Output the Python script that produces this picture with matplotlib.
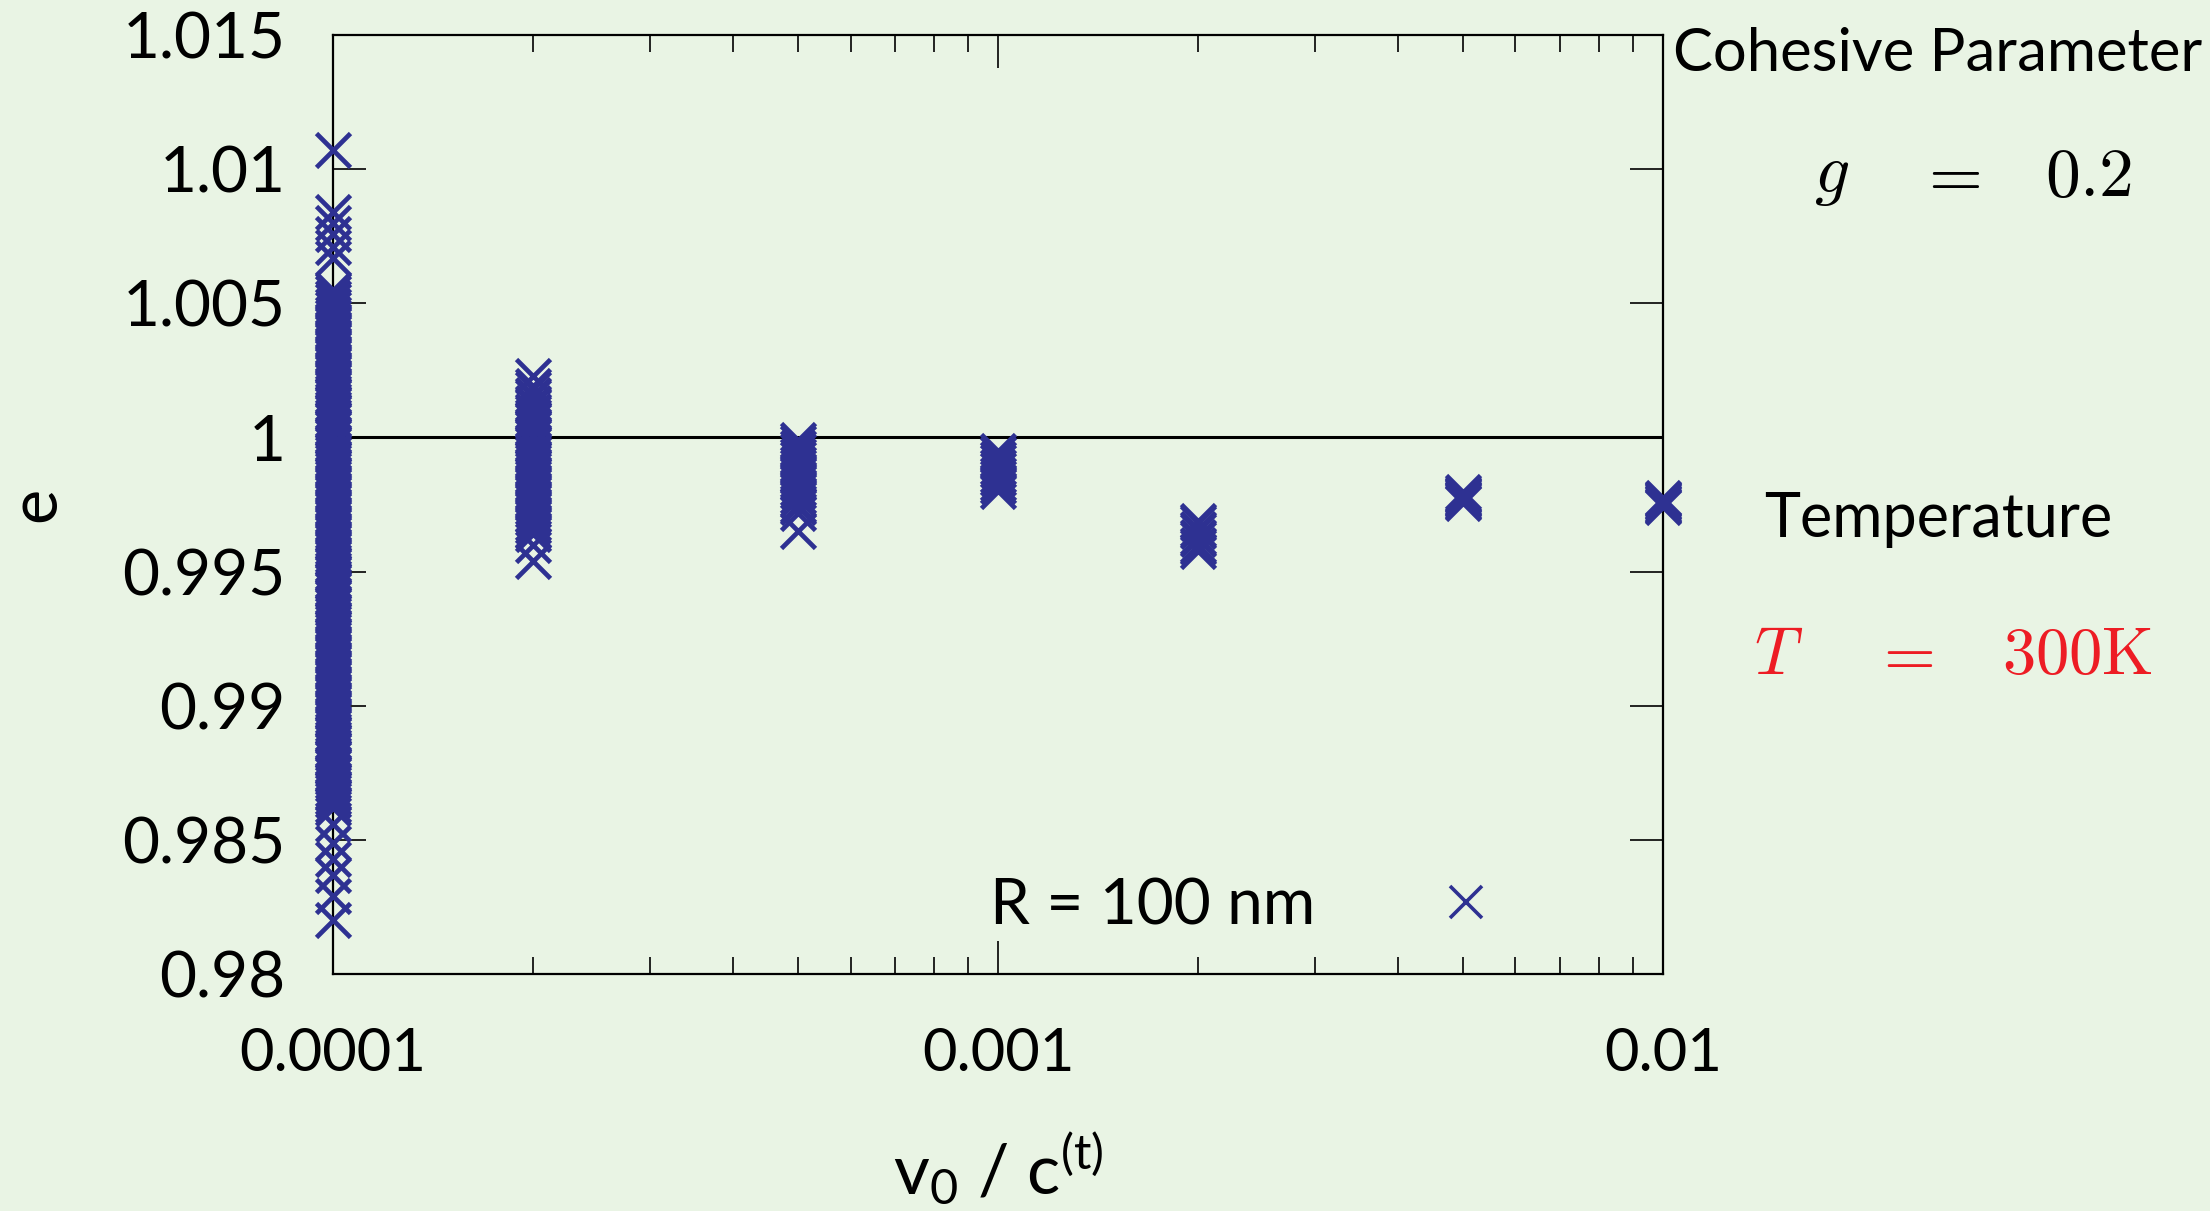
import numpy as np
import matplotlib
matplotlib.use("Agg")
import matplotlib.pyplot as plt
from matplotlib.ticker import FixedLocator, FuncFormatter, LogLocator, NullFormatter

# Normalised impact velocity v0 / c(t)
v_ratio = [1e-4, 2e-4, 5e-4, 1e-3, 2e-3, 5e-3, 1e-2]

# Coefficient e for each velocity (R = 100 nm)
e_v1 = [1.0107, 1.0084, 1.0080, 1.0076, 1.0071, 1.0067,
        1.0055, 1.0054, 1.0052, 1.0051, 1.0049, 1.0048, 1.0046, 1.0045, 1.0043, 1.0042,
        1.0040, 1.0039, 1.0037, 1.0036, 1.0034, 1.0033, 1.0031, 1.0030, 1.0028, 1.0027,
        1.0025, 1.0024, 1.0022, 1.0021, 1.0019, 1.0018, 1.0016, 1.0015, 1.0013, 1.0012,
        1.0010, 1.0009, 1.0007, 1.0006, 1.0004, 1.0003, 1.0001, 1.0000, 0.9998, 0.9997,
        0.9995, 0.9994, 0.9992, 0.9991, 0.9989, 0.9988, 0.9986, 0.9985, 0.9983, 0.9982,
        0.9980, 0.9979, 0.9977, 0.9976, 0.9974, 0.9973, 0.9971, 0.9970, 0.9968, 0.9967,
        0.9965, 0.9964, 0.9962, 0.9961, 0.9959, 0.9958, 0.9956, 0.9955, 0.9953, 0.9952,
        0.9950, 0.9949, 0.9947, 0.9946, 0.9944, 0.9943, 0.9941, 0.9940, 0.9938, 0.9937,
        0.9935, 0.9934, 0.9932, 0.9931, 0.9929, 0.9928, 0.9926, 0.9925, 0.9923, 0.9922,
        0.9920, 0.9919, 0.9917, 0.9916, 0.9914, 0.9913, 0.9911, 0.9910, 0.9908, 0.9907,
        0.9905, 0.9904, 0.9902, 0.9901, 0.9899, 0.9898, 0.9896, 0.9895, 0.9893, 0.9892,
        0.9890, 0.9889, 0.9887, 0.9886, 0.9884, 0.9883, 0.9881, 0.9880, 0.9878, 0.9877,
        0.9875, 0.9874, 0.9872, 0.9871, 0.9869, 0.9868, 0.9866, 0.9865, 0.9863, 0.9862,
        0.9856, 0.9849, 0.9843, 0.9837, 0.9829, 0.9820]
e_v2 = [1.0023, 1.0019, 1.0018, 1.0016, 1.0015, 1.0013, 1.0012, 1.0010, 1.0009, 1.0007,
        1.0006, 1.0004, 1.0003, 1.0001, 1.0000, 0.9998, 0.9997, 0.9995, 0.9994, 0.9992,
        0.9991, 0.9989, 0.9988, 0.9986, 0.9985, 0.9983, 0.9982, 0.9980, 0.9979, 0.9977,
        0.9976, 0.9974, 0.9973, 0.9971, 0.9970, 0.9968, 0.9967, 0.9965, 0.9964,
        0.9960, 0.9954]
e_v3 = [0.9999, 0.9998, 0.9996, 0.9995, 0.9993, 0.9992, 0.9990, 0.9989, 0.9987, 0.9986,
        0.9984, 0.9983, 0.9981, 0.9980, 0.9978, 0.9977, 0.9975, 0.9974, 0.9972, 0.9965]
e_v4 = [0.9995, 0.9994, 0.9992, 0.9991, 0.9989, 0.9988, 0.9986, 0.9985, 0.9983, 0.9982,
        0.9980]
e_v5 = [0.9969, 0.9968, 0.9966, 0.9965, 0.9963, 0.9962, 0.9960, 0.9959, 0.99575]
e_v6 = [0.99797, 0.9979, 0.99785, 0.9978, 0.99775, 0.9977, 0.99765, 0.9976, 0.99756]
e_v7 = [0.99774, 0.9977, 0.99765, 0.9976, 0.99755, 0.9975, 0.99745, 0.99741]
e_series = [e_v1, e_v2, e_v3, e_v4, e_v5, e_v6, e_v7]

y_ticks = [0.98, 0.985, 0.99, 0.995, 1.0, 1.005, 1.01, 1.015]
x_ticks = [1e-4, 1e-3, 1e-2]
x_tick_labels = ["0.0001", "0.001", "0.01"]

BG = "#e9f4e4"
MARK = "#2e3192"
RED = "#ed1c24"

plt.rcParams["font.family"] = ["Lato", "DejaVu Sans"]
plt.rcParams["mathtext.fontset"] = "custom"
plt.rcParams["mathtext.rm"] = "Lato"
plt.rcParams["mathtext.it"] = "Lato"

fig = plt.figure(figsize=(22.10, 12.11), dpi=100, facecolor=BG)
ax = fig.add_axes([0.1507, 0.1957, 0.6018, 0.7754], facecolor=BG)

for v, vals in zip(v_ratio, e_series):
    ax.plot(np.full(len(vals), v), vals, linestyle="none", marker="x",
            markersize=25, markeredgewidth=3.4, color=MARK, clip_on=False,
            zorder=3, label="R = 100 nm" if v == v_ratio[0] else None)

ax.axhline(1.0, color="black", lw=2.2, zorder=2)

ax.set_xscale("log")
ax.set_xlim(1e-4, 1e-2)
ax.set_ylim(0.98, 1.015)

ax.xaxis.set_major_locator(FixedLocator(x_ticks))
ax.xaxis.set_major_formatter(FuncFormatter(lambda x, p: x_tick_labels[x_ticks.index(x)] if x in x_ticks else ""))
ax.xaxis.set_minor_locator(LogLocator(base=10, subs=np.arange(2, 10)))
ax.xaxis.set_minor_formatter(NullFormatter())
ax.yaxis.set_major_locator(FixedLocator(y_ticks))
ax.yaxis.set_major_formatter(FuncFormatter(lambda y, p: "%g" % round(y, 3)))

ax.tick_params(which="both", direction="in", top=True, right=True, width=1.2, color="black")
ax.tick_params(which="major", length=23.8)
ax.tick_params(which="minor", length=12)
ax.tick_params(axis="y", labelsize=46, pad=34)
ax.tick_params(axis="x", labelsize=43, pad=38)
for s in ax.spines.values():
    s.set_linewidth(1.6)

ax.set_ylabel("e", fontsize=48, labelpad=40)
ax.set_xlabel(r"v$_0$ / c$^{(t)}$", fontsize=50, labelpad=35)

leg = ax.legend(loc="center", bbox_to_anchor=(0.710, 0.0724), frameon=False,
                markerfirst=False, handlelength=3.1, handletextpad=0.8,
                fontsize=46, borderpad=0)
for h in leg.legend_handles:
    h.set_markersize(23)
    h.set_markeredgewidth(2.6)

# Parameter annotations beside the axes
fig.text(0.757, 1 - 54 / 1211, "Cohesive Parameter", fontsize=43, ha="left", va="center")
fig.text(1832 / 2210, 1 - 176 / 1211, r"$g$", fontsize=50, ha="center", va="center", math_fontfamily="cm")
fig.text(1948 / 2210, 1 - 176 / 1211, r"$=$", fontsize=50, ha="center", va="center", math_fontfamily="cm")
fig.text(2089 / 2210, 1 - 176 / 1211, r"$0.2$", fontsize=50, ha="center", va="center", math_fontfamily="cm")
fig.text(1938 / 2210, 1 - 519 / 1211, "Temperature", fontsize=44, ha="center", va="center")
fig.text(1779 / 2210, 1 - 655 / 1211, r"$T$", fontsize=48, ha="center", va="center", color=RED, math_fontfamily="cm")
fig.text(1903 / 2210, 1 - 655 / 1211, r"$=$", fontsize=48, ha="center", va="center", color=RED, math_fontfamily="cm")
fig.text(2077 / 2210, 1 - 655 / 1211, r"$\mathrm{300K}$", fontsize=48, ha="center", va="center", color=RED, math_fontfamily="cm")

fig.savefig("out.png", dpi=100, facecolor=BG)
